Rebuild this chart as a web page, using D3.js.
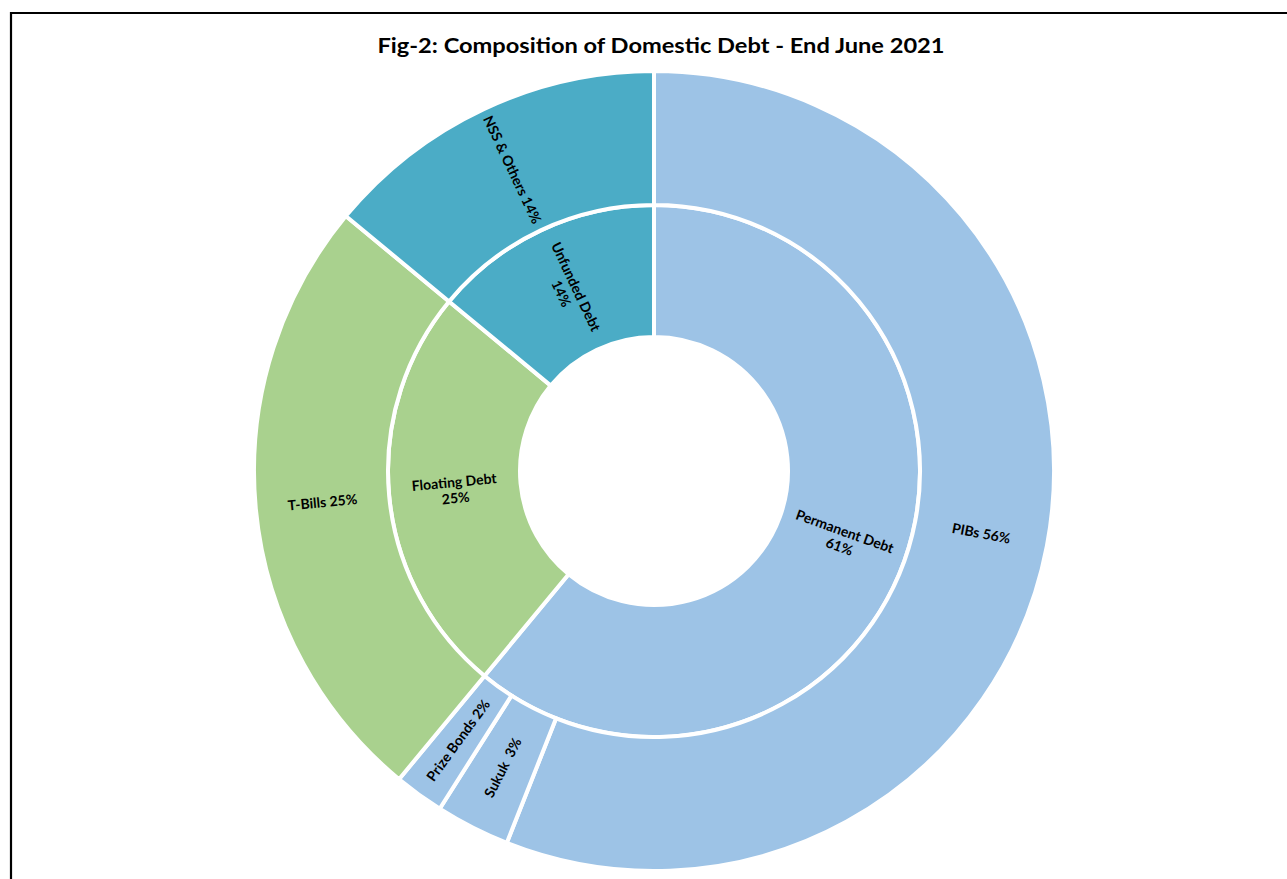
<!DOCTYPE html>
<html>
<head>
<meta charset="utf-8">
<script src="https://cdn.jsdelivr.net/npm/d3@7"></script>
<style>
  html, body { margin: 0; padding: 0; background: #ffffff; }
  svg { display: block; }
  text { font-family: Lato, "Open Sans", sans-serif; fill: #000; }
</style>
</head>
<body>
<svg id="chart" width="1287" height="879"></svg>
<script>
// Domestic debt composition, end June 2021 (percent of total)
const innerCategories = ["Permanent Debt", "Floating Debt", "Unfunded Debt"];
const innerValues = [61, 25, 14];
const outerCategories = ["PIBs", "Sukuk ", "Prize Bonds", "T-Bills", "NSS & Others"];
const outerValues = [56, 3, 2, 25, 14];
const innerColors = ["#9DC3E6", "#A9D18E", "#4BACC6"];
const outerColors = ["#9DC3E6", "#9DC3E6", "#9DC3E6", "#A9D18E", "#4BACC6"];
const titleText = "Fig-2: Composition of Domestic Debt - End June 2021";

const svg = d3.select("#chart");
const W = 1287, H = 879;
const cx = 654, cy = 471;
const rHole = 134, rMid = 266, rOuter = 400;

// Frame
svg.append("path")
  .attr("d", `M11,${H + 5} L11,13 L${W + 5},13`)
  .attr("fill", "none")
  .attr("stroke", "#000")
  .attr("stroke-width", 2.2);

// Title
svg.append("text")
  .attr("x", 661).attr("y", 53)
  .attr("text-anchor", "middle")
  .attr("font-size", 20.5)
  .attr("font-weight", 700)
  .attr("textLength", 567)
  .attr("lengthAdjust", "spacingAndGlyphs")
  .text(titleText);

const pie = d3.pie().sort(null).value(d => d.value);
const g = svg.append("g").attr("transform", `translate(${cx},${cy})`);

function ring(cats, vals, colors, r0, r1, cls) {
  const data = pie(cats.map((c, i) => ({ name: c, value: vals[i], color: colors[i] })));
  const arc = d3.arc().innerRadius(r0).outerRadius(r1);
  g.selectAll("path." + cls).data(data).enter().append("path")
    .attr("class", cls)
    .attr("d", arc)
    .attr("fill", d => d.data.color)
    .attr("stroke", "#fff")
    .attr("stroke-width", 4)
    .attr("stroke-linejoin", "miter");
  return { data, arc };
}

const inner = ring(innerCategories, innerValues, innerColors, rHole, rMid, "inner");
const outer = ring(outerCategories, outerValues, outerColors, rMid, rOuter, "outer");

// Radial label orientation: read along the radius, flipped on the left half
function labelTransform(d, arc) {
  const [x, y] = arc.centroid(d);
  const mid = (d.startAngle + d.endAngle) / 2 * 180 / Math.PI;
  const rot = mid < 180 ? mid - 90 : mid - 270;
  return `translate(${x},${y}) rotate(${rot})`;
}

// Inner ring labels: name on one line, share on the next
inner.data.forEach(d => {
  const t = g.append("text")
    .attr("transform", labelTransform(d, inner.arc))
    .attr("text-anchor", "middle")
    .attr("font-size", 14)
    .attr("font-weight", 700);
  t.append("tspan").attr("x", 0).attr("dy", "-0.2em").text(d.data.name);
  t.append("tspan").attr("x", 0).attr("dy", "1.15em").text(d.data.value + "%");
});

// Outer ring labels: name and share on one line
outer.data.forEach(d => {
  g.append("text")
    .attr("transform", labelTransform(d, outer.arc))
    .attr("text-anchor", "middle")
    .attr("dy", "0.35em")
    .attr("font-size", 14)
    .attr("font-weight", 700)
    .style("white-space", "pre")
    .text(d.data.name + " " + d.data.value + "%");
});
</script>
</body>
</html>
